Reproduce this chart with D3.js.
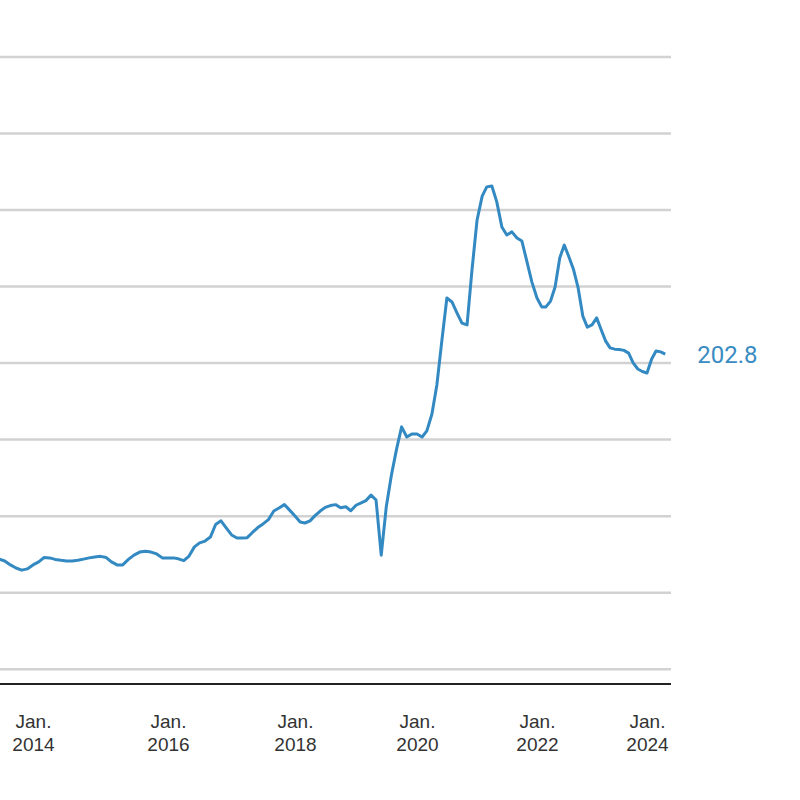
<!DOCTYPE html>
<html>
<head>
<meta charset="utf-8">
<script src="https://cdn.jsdelivr.net/npm/d3@7"></script>
<style>
  body { margin: 0; background: #fff; }
  svg { display: block; font-family: Roboto, "Noto Sans", sans-serif; }
</style>
</head>
<body>
<script>
// Canvas
const width = 800;
const height = 800;

// Monthly values, Jul. 2013 - May 2024
var values2013 = [135.8, 135.2, 133.9, 132.9, 132.2, 132.6];
var values2014 = [133.9, 134.9, 136.3, 136.2, 135.7, 135.4, 135.2, 135.2, 135.4, 135.8, 136.2, 136.5];
var values2015 = [136.7, 136.3, 134.9, 133.9, 133.9, 135.7, 137.1, 138.1, 138.4, 138.1, 137.5, 136.2];
var values2016 = [136.2, 136.2, 135.9, 135.3, 136.8, 139.8, 141.1, 141.7, 143.0, 147.1, 148.3, 146.0];
var values2017 = [143.7, 142.7, 142.7, 142.8, 144.5, 146.1, 147.3, 148.7, 151.5, 152.5, 153.6, 151.8];
var values2018 = [149.9, 147.9, 147.6, 148.3, 150.0, 151.5, 152.7, 153.3, 153.6, 152.6, 152.9, 151.6];
var values2019 = [153.4, 154.2, 154.9, 156.7, 155.1, 137.1, 152.8, 163.3, 171.8, 179.0, 175.7, 176.7];
var values2020 = [176.7, 175.7, 177.7, 183.2, 192.7, 207.4, 221.1, 219.8, 216.2, 212.9, 212.3, 230.3];
var values2021 = [246.6, 254.4, 257.4, 257.7, 252.5, 244.3, 241.7, 242.7, 240.7, 239.7, 232.9, 226.3];
var values2022 = [221.1, 218.2, 218.2, 220.1, 224.7, 234.2, 238.4, 234.5, 230.3, 224.4, 215.2, 211.6];
var values2023 = [212.3, 214.6, 211.0, 207.1, 204.8, 204.4, 204.3, 204.0, 203.1, 199.9, 197.9, 197.1];
var values2024 = [196.6, 201.2, 203.8, 203.5, 202.8];

var values = [].concat(values2013, values2014, values2015, values2016, values2017,
    values2018, values2019, values2020, values2021, values2022, values2023, values2024);

var months = d3.timeMonth.range(new Date(2013, 6, 1), new Date(2013, 6 + values.length, 1));

var data = months.map((d, i) => ({ date: d, value: values[i] }));

// Tick labels
var tickYears = [2014, 2016, 2018, 2020, 2022, 2024];
var gridValues = [100, 125, 150, 175, 200, 225, 250, 275, 300];

// Create SVG
var svg = d3.select("body")
    .append("svg")
    .attr("width", width)
    .attr("height", height);

// Scales (x axis of the picture is not evenly spaced, so use a piecewise domain)
var x_scale = d3.scaleTime()
    .domain(tickYears.map(y => new Date(y, 0, 1)))
    .range([33, 168, 295, 417, 537, 647]);
var y_scale = d3.scaleLinear()
    .domain([95, 300])
    .range([684, 56.5]);

const plotRight = 671;

// Gridlines
var grid = svg.append("g")
    .attr("transform", `translate(${plotRight}, 0)`)
    .call(d3.axisLeft(y_scale).tickValues(gridValues).tickSize(plotRight).tickFormat(""));
grid.select(".domain").remove();
grid.selectAll(".tick line")
    .attr("stroke", "#d2d2d2")
    .attr("stroke-width", 2.5);

// Bottom axis
var x_axis = svg.append("g")
    .attr("transform", `translate(0, ${y_scale(95)})`)
    .call(d3.axisBottom(x_scale).tickValues(tickYears.map(y => new Date(y, 0, 1))).tickSize(0).tickFormat(""));
x_axis.select(".domain")
    .attr("d", `M0,0H${plotRight}`)
    .attr("stroke", "#222")
    .attr("stroke-width", 2);

var labels = x_axis.selectAll(".tick").append("text")
    .attr("fill", "#333")
    .attr("font-size", 19)
    .attr("text-anchor", "middle");
labels.append("tspan").attr("x", 0).attr("y", 44).text("Jan.");
labels.append("tspan").attr("x", 0).attr("y", 67).text(d => d.getFullYear());

// Line
var line = d3.line()
    .x(d => x_scale(d.date))
    .y(d => y_scale(d.value));

svg.append("path")
    .datum(data)
    .attr("fill", "none")
    .attr("stroke", "#3389c2")
    .attr("stroke-width", 3)
    .attr("stroke-linejoin", "round")
    .attr("d", line);

// End value label
var last = data[data.length - 1];
svg.append("text")
    .attr("x", x_scale(last.date) + 32)
    .attr("y", y_scale(last.value) + 8.5)
    .attr("fill", "#3a8cc2")
    .attr("font-size", 24)
    .text(last.value.toFixed(1));
</script>
</body>
</html>
